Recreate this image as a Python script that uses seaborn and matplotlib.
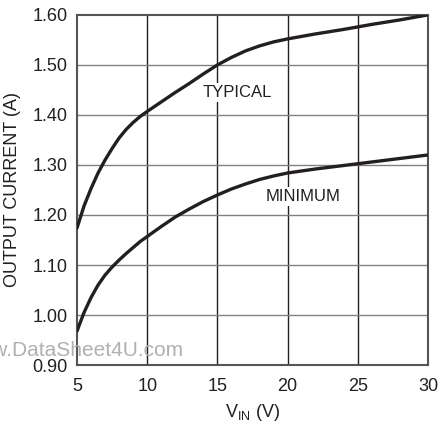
import matplotlib
matplotlib.use("Agg")
import matplotlib.pyplot as plt
import seaborn as sns
import pandas as pd

vin = [5, 5.5, 6, 6.5, 7, 7.5, 8, 8.5, 9, 9.5, 10, 11, 12, 13, 14, 15, 16, 17, 18, 19, 20, 22, 24, 26, 28, 30]
typical = [1.174, 1.218, 1.253, 1.284, 1.310, 1.333, 1.354, 1.371, 1.385, 1.397, 1.407, 1.426, 1.445, 1.463, 1.482,
           1.500, 1.515, 1.528, 1.538, 1.546, 1.552, 1.562, 1.571, 1.581, 1.590, 1.600]
minimum = [0.968, 1.005, 1.035, 1.060, 1.080, 1.096, 1.110, 1.123, 1.135, 1.147, 1.157, 1.177, 1.196, 1.212, 1.227,
           1.240, 1.252, 1.262, 1.271, 1.278, 1.284, 1.292, 1.299, 1.306, 1.313, 1.320]
x_ticks = [5, 10, 15, 20, 25, 30]
y_ticks = [0.90, 1.00, 1.10, 1.20, 1.30, 1.40, 1.50, 1.60]
y_labels = ["0.90", "1.00", "1.10", "1.20", "1.30", "1.40", "1.50", "1.60"]

sns.set_theme(style="white")
plt.rcParams['font.family'] = ['Liberation Sans', 'DejaVu Sans']

df = pd.DataFrame({
    "vin": vin * 2,
    "current": typical + minimum,
    "series": ["TYPICAL"] * len(vin) + ["MINIMUM"] * len(vin),
})

fig = plt.figure(figsize=(4.4, 4.25), dpi=100)
ax = fig.add_axes([0.175, 0.141, 0.798, 0.824])

sns.lineplot(data=df, x="vin", y="current", hue="series", palette=["#231f20", "#231f20"],
             linewidth=2.4, legend=False, ax=ax, zorder=3)

ax.set_xlim(5, 30)
ax.set_ylim(0.90, 1.60)
ax.set_xticks(x_ticks)
ax.set_yticks(y_ticks)
ax.set_yticklabels(y_labels)
ax.tick_params(axis="y", length=0, labelsize=13, colors="#231f20", pad=7)
ax.tick_params(axis="x", length=0, labelsize=13, colors="#231f20", pad=9)

for xv in x_ticks[1:-1]:
    ax.axvline(xv, color="#231f20", lw=1.0, zorder=1)
for yv in y_ticks[1:-1]:
    ax.axhline(yv, color="#808080", lw=1.0, zorder=1)

for s in ax.spines.values():
    s.set_color("#555555")
    s.set_linewidth(1.5)

ax.set_xlabel("V$_{\\mathregular{IN}}$ (V)", fontsize=13, color="#231f20", labelpad=5)
ax.set_ylabel("OUTPUT CURRENT (A)", fontsize=13, color="#231f20", labelpad=8)

ax.text(16.4, 1.444, "TYPICAL", fontsize=12, color="#231f20", ha="center", va="center",
        zorder=4, bbox=dict(facecolor="white", edgecolor="none", pad=1.5))
ax.text(21.1, 1.236, "MINIMUM", fontsize=12, color="#231f20", ha="center", va="center",
        zorder=4, bbox=dict(facecolor="white", edgecolor="none", pad=1.5))

fig.text(183 / 440, 1 - 351 / 425, "www.DataSheet4U.com", fontsize=15, color="#b0b0b0",
         ha="right", va="center", zorder=5)

fig.savefig("out.png", dpi=100)
